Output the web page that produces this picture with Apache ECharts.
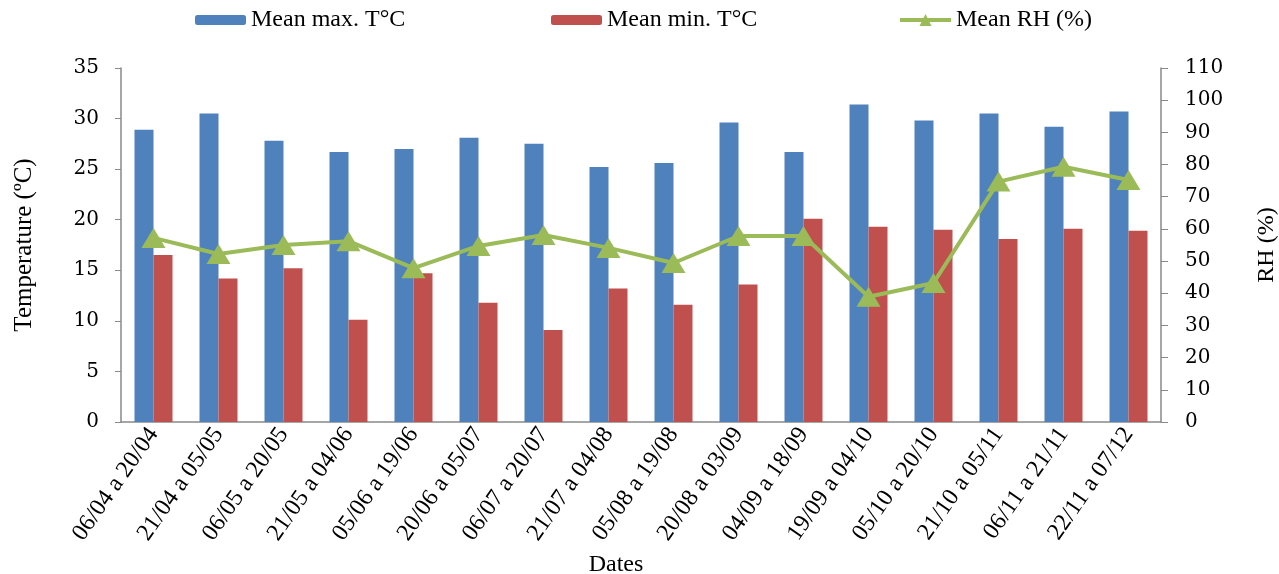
<!DOCTYPE html>
<html>
<head>
<meta charset="utf-8">
<script src="https://cdn.jsdelivr.net/npm/echarts@6/dist/echarts.min.js"></script>
<style>
  html, body { margin: 0; padding: 0; background: #fff; }
  #chart { width: 1279px; height: 574px; }
</style>
</head>
<body>
<div id="chart"></div>
<script>
// data
const dates = ['06/04 a 20/04', '21/04 a 05/05', '06/05 a 20/05', '21/05 a 04/06',
  '05/06 a 19/06', '20/06 a 05/07', '06/07 a 20/07', '21/07 a 04/08',
  '05/08 a 19/08', '20/08 a 03/09', '04/09 a 18/09', '19/09 a 04/10',
  '05/10 a 20/10', '21/10 a 05/11', '06/11 a 21/11', '22/11 a 07/12'];
const maxTemp = [28.9, 30.5, 27.8, 26.7, 27.0, 28.1, 27.5, 25.2, 25.6, 29.6, 26.7, 31.4, 29.8, 30.5, 29.2, 30.7];
const minTemp = [16.5, 14.2, 15.2, 10.1, 14.7, 11.8, 9.1, 13.2, 11.6, 13.6, 20.1, 19.3, 19.0, 18.1, 19.1, 18.9];
const meanRH = [57.2, 52.2, 55.0, 56.2, 47.8, 54.7, 58.1, 54.1, 49.4, 57.8, 57.8, 38.9, 43.2, 74.7, 79.3, 75.2];

const serif = 'Liberation Serif';
const numFont = 'DejaVu Serif';
const axisGray = '#898989';

let myChart = echarts.init(document.getElementById('chart'));

// one legend per item so each sits where it does in the picture
function legendAt(name, left, h) {
    return {
        data: [name],
        left: left,
        top: 8,
        padding: 0,
        itemWidth: 51,
        itemHeight: h,
        itemGap: 4,
        selectedMode: false,
        lineStyle: { width: 4 },
        textStyle: { fontFamily: serif, fontSize: 24, color: '#000' }
    };
}

myChart.setOption({
    animation: false,
    legend: [
        legendAt('Mean max. T°C', 195, 10),
        legendAt('Mean min. T°C', 551, 10),
        legendAt('Mean RH (%)', 898, 15)
    ],
    grid: { left: 121, right: 118, top: 68, bottom: 152, outerBoundsMode: 'none' },
    xAxis: {
        type: 'category',
        data: dates,
        name: 'Dates',
        nameLocation: 'middle',
        nameGap: 128,
        nameTextStyle: { fontFamily: serif, fontSize: 24, color: '#000', padding: [0, 50, 0, 0] },
        axisLine: { lineStyle: { color: axisGray, width: 1.5 } },
        axisTick: { length: 6, lineStyle: { color: axisGray } },
        axisLabel: {
            rotate: 55,
            interval: 0,
            margin: 8,
            fontFamily: serif,
            fontSize: 24,
            color: '#000'
        }
    },
    yAxis: [
        {
            type: 'value',
            min: 0,
            max: 35,
            interval: 5,
            name: 'Temperature (ºC)',
            nameLocation: 'middle',
            nameRotate: 90,
            nameGap: 84,
            nameTextStyle: { fontFamily: serif, fontSize: 25, color: '#000' },
            axisLine: { show: true, lineStyle: { color: axisGray, width: 1.5 } },
            axisTick: { show: true, length: 6, lineStyle: { color: axisGray } },
            splitLine: { show: false },
            axisLabel: { margin: 22, fontFamily: numFont, fontSize: 20, color: '#000' }
        },
        {
            type: 'value',
            min: 0,
            max: 110,
            interval: 10,
            position: 'right',
            name: 'RH (%)',
            nameLocation: 'middle',
            nameRotate: 90,
            nameGap: 94,
            nameTextStyle: { fontFamily: serif, fontSize: 24, color: '#000' },
            axisLine: { show: true, lineStyle: { color: axisGray, width: 1.5 } },
            axisTick: { show: true, length: 7, lineStyle: { color: axisGray } },
            splitLine: { show: false },
            axisLabel: { margin: 24, fontFamily: numFont, fontSize: 20, color: '#000' }
        }
    ],
    series: [
        {
            name: 'Mean max. T°C',
            type: 'bar',
            barWidth: 19,
            barGap: '0%',
            itemStyle: { color: '#4F81BD' },
            data: maxTemp
        },
        {
            name: 'Mean min. T°C',
            type: 'bar',
            barWidth: 19,
            itemStyle: { color: '#C0504D' },
            data: minTemp
        },
        {
            name: 'Mean RH (%)',
            type: 'line',
            yAxisIndex: 1,
            symbol: 'triangle',
            symbolSize: [24, 20],
            lineStyle: { color: '#9BBB59', width: 4 },
            itemStyle: { color: '#9BBB59' },
            data: meanRH
        }
    ]
});
</script>
</body>
</html>
